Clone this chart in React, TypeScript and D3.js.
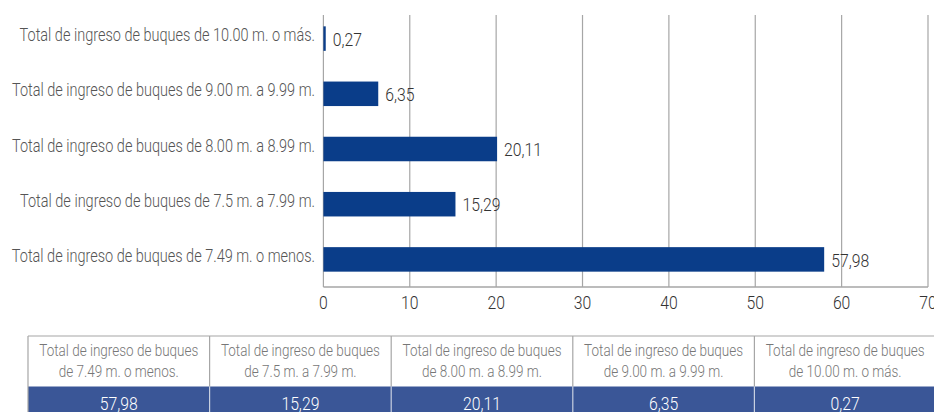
import React from "react";
import * as d3 from "d3";

const categories = [
  "Total de ingreso de buques de 10.00 m. o más.",
  "Total de ingreso de buques de 9.00 m. a 9.99 m.",
  "Total de ingreso de buques de 8.00 m. a 8.99 m.",
  "Total de ingreso de buques de 7.5 m. a 7.99 m.",
  "Total de ingreso de buques de 7.49 m. o menos.",
];
const values = [0.27, 6.35, 20.11, 15.29, 57.98];
const xTicks = [0, 10, 20, 30, 40, 50, 60, 70];

const tableHeaders = [
  ["Total de ingreso de buques", "de 7.49 m. o menos."],
  ["Total de ingreso de buques", "de 7.5 m. a 7.99 m."],
  ["Total de ingreso de buques", "de 8.00 m. a 8.99 m."],
  ["Total de ingreso de buques", "de 9.00 m. a 9.99 m."],
  ["Total de ingreso de buques", "de 10.00 m. o más."],
];
const tableValues = [57.98, 15.29, 20.11, 6.35, 0.27];

const FAMILY = "Roboto";
const WEIGHT = 300;
const fmt = (v: number) => v.toFixed(2).replace(".", ",");

let ctx: CanvasRenderingContext2D | null = null;
function measure(s: string, size: number): number {
  if (!ctx) ctx = document.createElement("canvas").getContext("2d");
  if (!ctx) return s.length * size * 0.5;
  ctx.font = `${WEIGHT} ${size}px ${FAMILY}`;
  return ctx.measureText(s).width;
}

const CAT_SIZE = 18.5;
const NUM_SIZE = 18.5;
const HEAD_SIZE = 17;
const kCat = 303 / measure("Total de ingreso de buques de 8.00 m. a 8.99 m.", CAT_SIZE);
const kNum = 38 / measure("57,98", NUM_SIZE);
const kHead = 159 / measure("Total de ingreso de buques", HEAD_SIZE);

function T(props: { x: number; y: number; s: string; size: number; k: number; anchor?: string; fill: string }) {
  const len = measure(props.s, props.size) * props.k;
  return (
    <text
      x={props.x}
      y={props.y}
      fontSize={props.size}
      fontWeight={WEIGHT}
      textAnchor={props.anchor || "start"}
      fill={props.fill}
      textLength={len}
      lengthAdjust="spacingAndGlyphs"
    >
      {props.s}
    </text>
  );
}

export default function App() {
  const W = 934, H = 412;
  const x = d3.scaleLinear().domain([0, 70]).range([323.4, 928]);
  const y = d3.scaleBand<string>().domain(categories).range([11, 287]).paddingInner(0.556).paddingOuter(0.278);
  const gridTop = 15, gridBottom = 287;

  const tX = d3.scaleBand<number>().domain(d3.range(5)).range([28, 936]);
  const headTop = 336, headBottom = 386.5, rowBottom = 412;

  return (
    <svg width={W} height={H} style={{ position: "absolute", left: 0, top: 0, fontFamily: FAMILY }}>
      <rect width={W} height={H} fill="#fff" />
      {xTicks.map((t) => (
        <g key={t}>
          <line x1={x(t)} x2={x(t)} y1={gridTop} y2={gridBottom} stroke="#a6a6a6" strokeWidth={1.2} />
          <T x={x(t)} y={309} s={String(t)} size={NUM_SIZE} k={kNum} anchor="middle" fill="#333" />
        </g>
      ))}
      <line x1={x(0)} x2={x(70)} y1={gridBottom} y2={gridBottom} stroke="#a6a6a6" strokeWidth={1.4} />
      {categories.map((c, i) => {
        const yy = y(c)!;
        const bh = y.bandwidth();
        const cy = yy + bh / 2;
        return (
          <g key={c}>
            <rect x={x(0)} y={yy} width={x(values[i]) - x(0)} height={bh} fill="#0a3d89" />
            <T x={x(values[i]) + 7} y={cy + 7.2} s={fmt(values[i])} size={NUM_SIZE} k={kNum} fill="#333" />
            <T x={315} y={cy + 2.5} s={c} size={CAT_SIZE} k={kCat} anchor="end" fill="#555" />
          </g>
        );
      })}
      {/* table */}
      <rect x={28} y={headBottom} width={936 - 28} height={rowBottom - headBottom} fill="#3a5697" />
      <line x1={28} x2={936} y1={headTop} y2={headTop} stroke="#a6a6a6" strokeWidth={1.2} />
      <line x1={28} x2={28} y1={headTop} y2={rowBottom} stroke="#a6a6a6" strokeWidth={1.2} />
      {d3.range(1, 5).map((i) => (
        <g key={i}>
          <line x1={tX(i)!} x2={tX(i)!} y1={headTop} y2={headBottom} stroke="#a6a6a6" strokeWidth={1.2} />
          <line x1={tX(i)!} x2={tX(i)!} y1={headBottom} y2={rowBottom} stroke="#c8d0e0" strokeWidth={1.2} />
        </g>
      ))}
      {tableHeaders.map((h, i) => {
        const cx = tX(i)! + tX.bandwidth() / 2;
        return (
          <g key={i}>
            <T x={cx} y={356} s={h[0]} size={HEAD_SIZE} k={kHead} anchor="middle" fill="#777" />
            <T x={cx} y={377} s={h[1]} size={HEAD_SIZE} k={kHead} anchor="middle" fill="#777" />
            <T x={cx} y={409.5} s={fmt(tableValues[i])} size={NUM_SIZE} k={kNum} anchor="middle" fill="#fff" />
          </g>
        );
      })}
    </svg>
  );
}
